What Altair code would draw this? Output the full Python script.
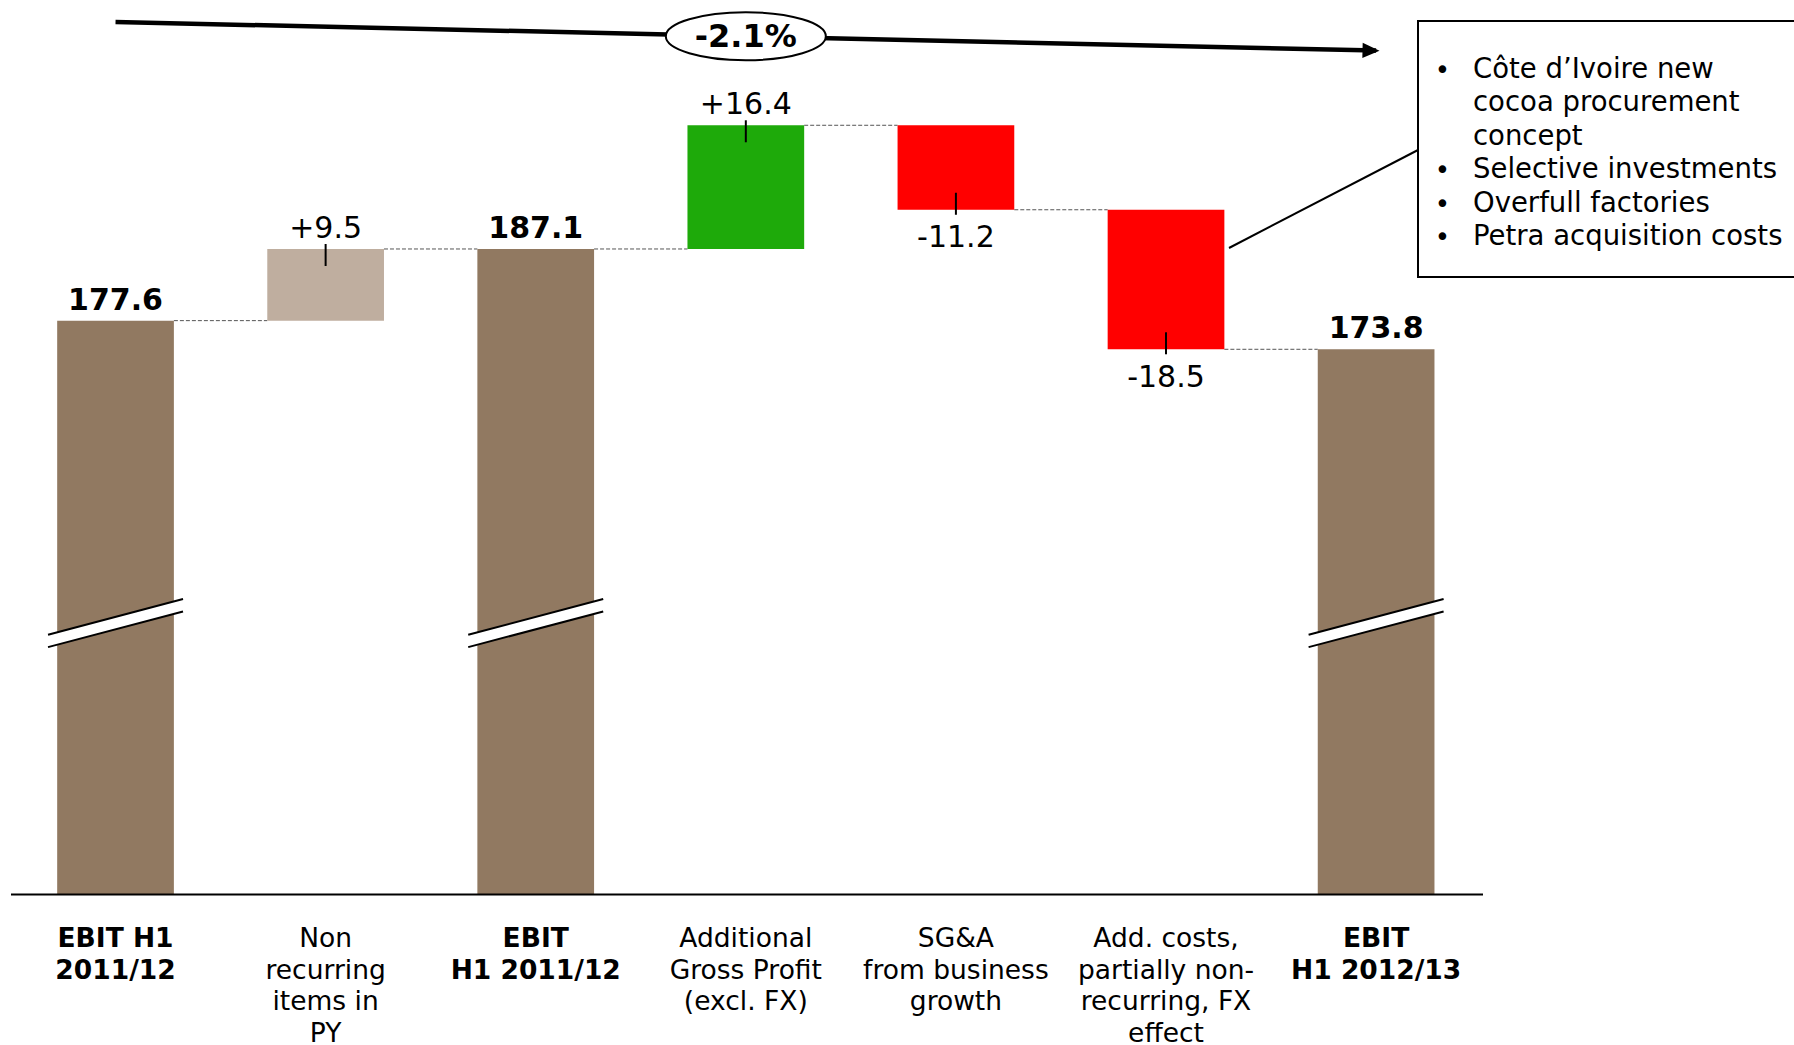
import altair as alt
import pandas as pd

# EBIT bridge, H1 2011/12 -> H1 2012/13 (EUR m)
steps = [
    "EBIT H1\n2011/12",
    "Non\nrecurring\nitems in\nPY",
    "EBIT\nH1 2011/12",
    "Additional\nGross Profit\n(excl. FX)",
    "SG&A\nfrom business\ngrowth",
    "Add. costs,\npartially non-\nrecurring, FX\neffect",
    "EBIT\nH1 2012/13",
]
step_kind = ["total", "one-off", "total", "gain", "cost", "cost", "total"]
step_values = [177.6, 9.5, 187.1, 16.4, -11.2, -18.5, 173.8]

cost_notes = [
    "Côte d’Ivoire new\ncocoa procurement\nconcept",
    "Selective investments",
    "Overfull factories",
    "Petra acquisition costs",
]

# broken value axis: bars start here, the cut marks sit at BREAK_LEVEL
AXIS_FLOOR = 101.5
BREAK_LEVEL = 137.5
TREND_LIFT = 39.6

KIND_COLORS = {"total": "#917961", "one-off": "#BFAE9F", "gain": "#1EAA0A", "cost": "#FF0000"}
FONT = "DejaVu Sans"
W, H = 1794, 1045

# ---- derived tables -------------------------------------------------------
records = []
level = 0.0
for name, kind, value in zip(steps, step_kind, step_values):
    if kind == "total":
        start, end = AXIS_FLOOR, value
        label = f"{value:.1f}"
    else:
        start, end = level, level + value
        label = f"{value:+.1f}"
    level = round(end, 1)
    records.append({"step": name, "kind": kind, "start": start, "end": round(end, 1),
                    "label": label, "is_total": kind == "total", "rising": value >= 0})
bars_df = pd.DataFrame(records)

conn_df = pd.DataFrame({
    "step": steps[:-1],
    "next": steps[1:],
    "level": bars_df["end"].tolist()[:-1],
})

break_df = pd.DataFrame({"step": [s for s, k in zip(steps, step_kind) if k == "total"]})
break_df["level"] = BREAK_LEVEL

first_total, last_total = step_values[0], step_values[-1]
change = (last_total / first_total - 1) * 100
trend_df = pd.DataFrame({
    "step": [steps[0], steps[-1]],
    "level": [first_total + TREND_LIFT, last_total + TREND_LIFT],
    "order": [0, 1],
})
badge_df = pd.DataFrame({
    "step": [steps[len(steps) // 2]],
    "level": [(first_total + last_total) / 2 + TREND_LIFT],
    "label": [f"{change:.1f}%"],
})
floor_df = pd.DataFrame({"level": [AXIS_FLOOR]})
one_df = pd.DataFrame({"k": [0]})

# ---- scales ---------------------------------------------------------------
x_scale = alt.Scale(domain=steps, paddingInner=0.4445, paddingOuter=0.9917,
                    align=0.1372, round=False)
y_scale = alt.Scale(domain=[81.56, 220.11], nice=False, zero=False)


def xenc():
    return alt.X("step:N", scale=x_scale, axis=None)


def yenc(field):
    return alt.Y(f"{field}:Q", scale=y_scale, axis=None)


HALF_BAR = 58.35

# ---- layers ---------------------------------------------------------------
connectors = alt.Chart(conn_df).mark_rule(
    color="#555555", strokeWidth=1, strokeDash=[4, 2], xOffset=HALF_BAR, x2Offset=-HALF_BAR
).encode(x=xenc(), x2="next:N", y=yenc("level"))

bars = alt.Chart(bars_df).mark_bar().encode(
    x=xenc(),
    y=yenc("start"),
    y2="end:Q",
    color=alt.Color("kind:N", legend=None,
                    scale=alt.Scale(domain=list(KIND_COLORS), range=list(KIND_COLORS.values()))),
)

BREAK_FILL = "M -1 0.173 L 1 -0.356 L 1 -0.172 L -1 0.356 Z"
BREAK_LINES = "M -1 0.173 L 1 -0.356 M -1 0.356 L 1 -0.172"
break_fill = alt.Chart(break_df).mark_point(
    shape=BREAK_FILL, size=135 ** 2, filled=True, color="white", opacity=1, strokeWidth=0
).encode(x=xenc(), y=yenc("level"))
break_lines = alt.Chart(break_df).mark_point(
    shape=BREAK_LINES, size=135 ** 2, filled=False, color="black", opacity=1, strokeWidth=2
).encode(x=xenc(), y=yenc("level"))

baseline = alt.Chart(floor_df).mark_rule(color="black", strokeWidth=2).encode(
    x=alt.value(11), x2=alt.value(1483), y=yenc("level")
)

ticks_up = alt.Chart(bars_df).transform_filter("!datum.is_total && datum.rising").mark_rule(
    color="black", strokeWidth=2, yOffset=-5, y2Offset=17
).encode(x=xenc(), y=yenc("end"), y2="end:Q")
ticks_down = alt.Chart(bars_df).transform_filter("!datum.rising").mark_rule(
    color="black", strokeWidth=2, yOffset=5, y2Offset=-17
).encode(x=xenc(), y=yenc("end"), y2="end:Q")

total_labels = alt.Chart(bars_df).transform_filter("datum.is_total").mark_text(
    font=FONT, fontSize=30, fontWeight="bold", dy=-11, baseline="alphabetic", color="black"
).encode(x=xenc(), y=yenc("end"), text="label:N")
up_labels = alt.Chart(bars_df).transform_filter("!datum.is_total && datum.rising").mark_text(
    font=FONT, fontSize=30, dy=-11, baseline="alphabetic", color="black"
).encode(x=xenc(), y=yenc("end"), text="label:N")
down_labels = alt.Chart(bars_df).transform_filter("!datum.rising").mark_text(
    font=FONT, fontSize=30, dy=37.7, baseline="alphabetic", color="black"
).encode(x=xenc(), y=yenc("end"), text="label:N")

cat_bold = alt.Chart(bars_df).transform_filter("datum.is_total").mark_text(
    font=FONT, fontSize=26.5, fontWeight="bold", lineBreak="\n", lineHeight=31.5,
    baseline="alphabetic", color="black"
).encode(x=xenc(), y=alt.value(947), text="step:N")
cat_plain = alt.Chart(bars_df).transform_filter("!datum.is_total").mark_text(
    font=FONT, fontSize=26.5, lineBreak="\n", lineHeight=31.5,
    baseline="alphabetic", color="black"
).encode(x=xenc(), y=alt.value(947), text="step:N")

trend = alt.Chart(trend_df).mark_line(color="black", strokeWidth=4.5).encode(
    x=xenc(), y=yenc("level"), order="order:Q"
)
ARROW = "M -1.6 -0.9 L 0.4 0 L -1.6 0.9 Z"
arrow_head = alt.Chart(trend_df.tail(1)).mark_point(
    shape=ARROW, size=289, filled=True, color="black", opacity=1, angle=1.3
).encode(x=xenc(), y=yenc("level"))

ELLIPSE = ("M -1 0 C -1 -0.166 -0.552 -0.3 0 -0.3 C 0.552 -0.3 1 -0.166 1 0 "
           "C 1 0.166 0.552 0.3 0 0.3 C -0.552 0.3 -1 0.166 -1 0 Z")
badge = alt.Chart(badge_df).mark_point(
    shape=ELLIPSE, size=160 ** 2, filled=True, fill="white", stroke="black",
    strokeWidth=2, opacity=1
).encode(x=xenc(), y=yenc("level"))
badge_text = alt.Chart(badge_df).mark_text(
    font=FONT, fontSize=32, fontWeight="bold", dy=10.3, baseline="alphabetic", color="black"
).encode(x=xenc(), y=yenc("level"), text="label:N")

# ---- note box with the cost drivers ----------------------------------------
callout = alt.Chart(one_df).mark_rule(color="black", strokeWidth=2).encode(
    x=alt.value(1229), y=alt.value(248), x2=alt.value(1418), y2=alt.value(150)
)
note_box = alt.Chart(one_df).mark_rect(fill="white", stroke="black", strokeWidth=2).encode(
    x=alt.value(1418), x2=alt.value(1810), y=alt.value(21), y2=alt.value(277)
)

NOTE_TOP, NOTE_LINE = 77.5, 33.5
note_layers = []
line_no = 0
for note in cost_notes:
    note_df = pd.DataFrame({"text": [note], "bullet": ["•"]})
    y_pos = NOTE_TOP + NOTE_LINE * line_no
    note_layers.append(alt.Chart(note_df).mark_text(
        font=FONT, fontSize=27.5, lineBreak="\n", lineHeight=NOTE_LINE, align="left",
        baseline="alphabetic", color="black"
    ).encode(x=alt.value(1473), y=alt.value(y_pos), text="text:N"))
    note_layers.append(alt.Chart(note_df).mark_text(
        font=FONT, fontSize=26, align="center", baseline="alphabetic", color="black", dy=1
    ).encode(x=alt.value(1442.5), y=alt.value(y_pos), text="bullet:N"))
    line_no += note.count("\n") + 1

chart = alt.layer(
    connectors, bars, break_fill, break_lines, baseline,
    ticks_up, ticks_down, total_labels, up_labels, down_labels,
    cat_bold, cat_plain, trend, arrow_head, badge, badge_text,
    callout, note_box, *note_layers,
).properties(
    width=W, height=H, padding=0,
    autosize=alt.AutoSizeParams(type="none"),
    background="white",
).configure_view(stroke=None)

chart.save("out.html", embed_options={"renderer": "svg", "actions": False})
